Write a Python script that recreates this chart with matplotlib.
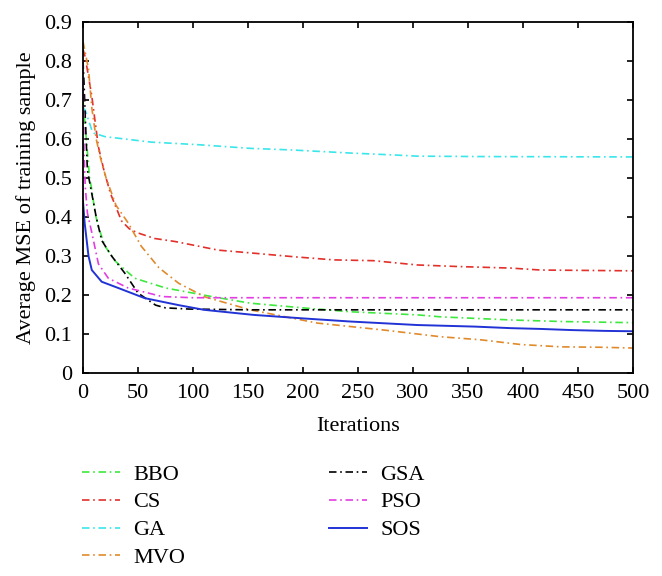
import matplotlib
matplotlib.use("Agg")
import matplotlib.pyplot as plt

plt.rcParams['font.family'] = ['Liberation Serif', 'DejaVu Serif']

# data (iteration, average MSE)
bbo_it = [0, 3, 6, 8, 11, 14, 20, 30, 47, 75, 117, 152, 200, 243, 304, 325, 389, 435, 500]
bbo_mse = [0.70, 0.60, 0.50, 0.47, 0.41, 0.375, 0.325, 0.285, 0.243, 0.218, 0.196, 0.179, 0.167,
           0.157, 0.149, 0.144, 0.136, 0.132, 0.129]

cs_it = [0, 2, 8, 14, 19, 25, 35, 42, 49, 65, 84, 123, 152, 192, 228, 264, 304, 341, 389, 416, 500]
cs_mse = [0.83, 0.81, 0.71, 0.58, 0.52, 0.46, 0.39, 0.37, 0.36, 0.345, 0.337, 0.315, 0.308, 0.298,
          0.29, 0.288, 0.277, 0.273, 0.269, 0.264, 0.262]

ga_it = [0, 2, 8, 10, 20, 62, 107, 152, 189, 243, 283, 304, 359, 500]
ga_mse = [0.68, 0.674, 0.623, 0.615, 0.606, 0.592, 0.585, 0.576, 0.572, 0.564, 0.559, 0.556,
          0.555, 0.554]

mvo_it = [0, 5, 8, 12, 16, 21, 30, 41, 53, 69, 87, 111, 152, 213, 274, 325, 362, 398, 435, 471, 500]
mvo_mse = [0.85, 0.78, 0.68, 0.60, 0.55, 0.50, 0.43, 0.385, 0.325, 0.27, 0.23, 0.195, 0.162, 0.128,
           0.11, 0.093, 0.085, 0.073, 0.067, 0.066, 0.064]

gsa_it = [0, 1, 2, 4, 8, 12, 17, 26, 38, 50, 66, 75, 96, 150, 500]
gsa_mse = [0.80, 0.74, 0.66, 0.52, 0.46, 0.40, 0.34, 0.30, 0.256, 0.205, 0.174, 0.167, 0.164,
           0.162, 0.162]

pso_it = [0, 0.5, 1, 2, 4, 8, 14, 23, 41, 72, 100, 500]
pso_mse = [0.80, 0.65, 0.56, 0.48, 0.41, 0.36, 0.28, 0.243, 0.218, 0.196, 0.193, 0.193]

sos_it = [0, 1.5, 5, 8, 17, 32, 56, 87, 110, 155, 200, 243, 304, 356, 389, 416, 445, 474, 500]
sos_mse = [0.44, 0.385, 0.30, 0.264, 0.234, 0.218, 0.192, 0.174, 0.162, 0.149, 0.14, 0.132,
           0.123, 0.119, 0.115, 0.113, 0.110, 0.108, 0.107]

xticks = list(range(0, 501, 50))
yticks = [0, 0.1, 0.2, 0.3, 0.4, 0.5, 0.6, 0.7, 0.8, 0.9]
ytick_labels = ['0', '0.1', '0.2', '0.3', '0.4', '0.5', '0.6', '0.7', '0.8', '0.9']

fig = plt.figure(figsize=(6.62, 5.76), dpi=100)
ax = fig.add_axes([83 / 662, 1 - 373 / 576, (633 - 83) / 662, (373 - 22) / 576])

dd = (4.5, 2.2, 1, 2.2)
lw = 1.2
ax.plot(bbo_it, bbo_mse, color='#3ee83e', lw=lw, dashes=dd, label='BBO')
ax.plot(cs_it, cs_mse, color='#e2302a', lw=lw, dashes=dd, label='CS')
ax.plot(ga_it, ga_mse, color='#3ae6ea', lw=lw, dashes=dd, label='GA')
ax.plot(mvo_it, mvo_mse, color='#e08a2c', lw=lw, dashes=dd, label='MVO')
ax.plot(gsa_it, gsa_mse, color='black', lw=lw, dashes=dd, label='GSA')
ax.plot(pso_it, pso_mse, color='#e23ee2', lw=lw, dashes=dd, label='PSO')
ax.plot(sos_it, sos_mse, color='#2233d6', lw=1.4, ls='-', label='SOS')

ax.set_xlim(0, 500)
ax.set_ylim(0, 0.9)
ax.set_xticks(xticks)
ax.set_yticks(yticks)
ax.set_yticklabels(ytick_labels)
ax.tick_params(direction='in', top=True, right=True, length=4, width=1.2,
               labelsize=16, pad=8)
for s in ax.spines.values():
    s.set_linewidth(1.3)

ax.set_xlabel('Iterations', fontsize=16, labelpad=10)
ax.set_ylabel('Average MSE of training sample', fontsize=16, labelpad=6)

fig.legend(loc='upper left', bbox_to_anchor=(82 / 662, 1 - 464 / 576), ncol=2,
           frameon=False, fontsize=16, borderpad=0, borderaxespad=0,
           handlelength=1.7, handletextpad=0.6, labelspacing=0.33, columnspacing=6.5)

plt.savefig('out.png', dpi=100)
